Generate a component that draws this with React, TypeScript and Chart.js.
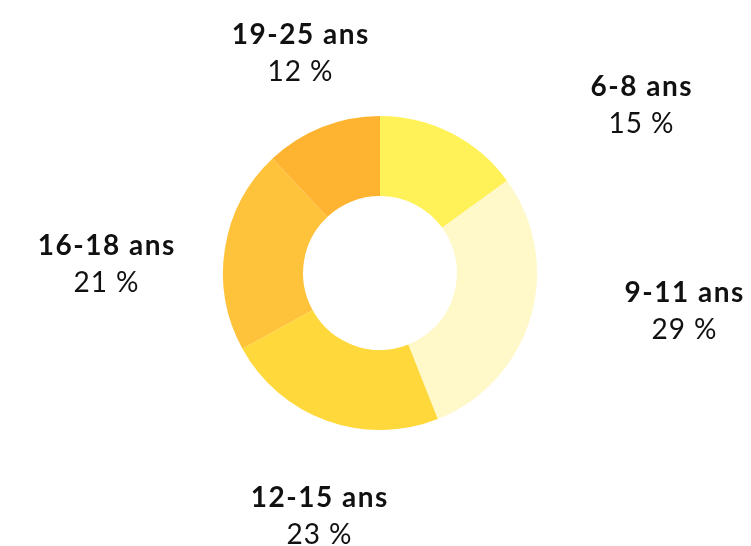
import React, { useEffect, useRef } from "react";
import { Chart, registerables } from "chart.js";

Chart.register(...registerables);

const categories = ["6-8 ans", "9-11 ans", "12-15 ans", "16-18 ans", "19-25 ans"];
const shares = [15, 29, 23, 21, 12];
const percentLabels = ["15 %", "29 %", "23 %", "21 %", "12 %"];
const colors = ["#FFF258", "#FFF8C9", "#FFD93B", "#FFC23B", "#FEB430"];

// label anchor layout (centre x, baseline of first line)
const labelAnchors = [
  { x: 641, y: 96 },
  { x: 684, y: 302 },
  { x: 319, y: 507 },
  { x: 106, y: 255 },
  { x: 300, y: 44 },
];

const labelPlugin = {
  id: "outerLabels",
  afterDraw(chart: any) {
    const ctx = chart.ctx;
    ctx.save();
    ctx.fillStyle = "#111111";
    ctx.textAlign = "center";
    ctx.textBaseline = "alphabetic";
    chart.data.labels.forEach((lab: string, i: number) => {
      const a = labelAnchors[i];
      ctx.font = "bold 28px Lato";
      (ctx as any).letterSpacing = "1.5px";
      ctx.fillText(lab, a.x + 0.75, a.y);
      ctx.font = "28px Lato";
      (ctx as any).letterSpacing = "1px";
      ctx.fillText(percentLabels[i], a.x + 0.5, a.y + 37);
    });
    ctx.restore();
  },
};

export default function App() {
  const ref = useRef<HTMLCanvasElement>(null);
  useEffect(() => {
    if (!ref.current) return;
    const chart = new Chart(ref.current, {
      type: "doughnut",
      data: {
        labels: categories,
        datasets: [
          {
            data: shares,
            backgroundColor: colors,
            borderWidth: 0,
          },
        ],
      },
      options: {
        animation: false,
        responsive: false,
        cutout: "49%",
        layout: { padding: { left: 223, right: 214, top: 116, bottom: 116 } },
        plugins: {
          legend: { display: false },
          tooltip: { enabled: false },
        },
      },
      plugins: [labelPlugin],
    });
    return () => chart.destroy();
  }, []);
  return (
    <div style={{ position: "fixed", left: 0, top: 0, width: 751, height: 546, background: "#fff" }}>
      <canvas ref={ref} width={751} height={546} />
    </div>
  );
}
